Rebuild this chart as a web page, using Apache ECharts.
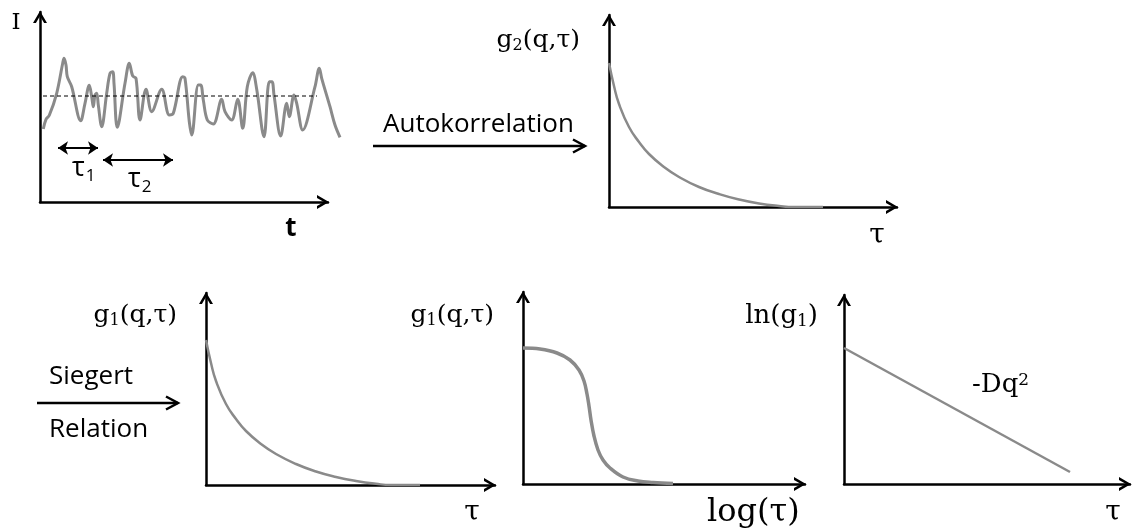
<!DOCTYPE html>
<html><head><meta charset="utf-8">
<script src="https://cdn.jsdelivr.net/npm/echarts@6/dist/echarts.min.js"></script>
<style>html,body{margin:0;padding:0;background:#fff}#c{width:1132px;height:530px}</style>
</head><body><div id="c"></div>
<script>
// ---------- Panel 1: intensity fluctuation I(t) ----------
const signalT = [3.3,6,9.3,16.7,22.7,24,26,27.3,31.7,40.7,45,49.3,51.7,53.3,55,56.7,58.3,61.7,66.7,70,72.7,74,77.3,85,89.3,92.7,96,100,106,111.7,121.7,129.3,133.3,142.7,145,149.3,151.7,158.3,160.7,163.3,167.3,173.3,181.7,185,191.7,197.7,202.7,207.3,212.7,216.7,224,229.3,232,234,240.7,246.7,249.3,254,256.7,262.7,275,279.3,281.7,290,295,300];
const signalI = [73,82.7,86.7,108.7,138.7,143.7,137,125.3,115.3,81.3,98.7,116.7,105.3,95.3,107,108.7,97,75.3,108.7,128.7,130.3,118.7,74.7,118.7,138.7,126,123.7,82,112.7,90.3,112.7,87,88.7,125.3,123.7,80.3,67,117,117,102,82,78,102.7,90.3,82,102.7,73.7,115.3,129.3,112.7,65.3,120.3,120.3,107,66,98.7,85.3,107,98.7,72,115.3,133.7,123.7,95.3,77,64.7];
const meanLevel = 106;
const meanSpan = [3, 277];
const tau1Span = [18, 58];  const tau1Level = 54;
const tau2Span = [63, 133]; const tau2Level = 42;
// ---------- Panel 2: g2(q,tau) ----------
const g2Tau = [0,5,10,20,30,40,55,70,90,110,130,150,170,185,214];
const g2Val = [144,121,103,80,65,53,40,30,20,13,7.5,3.5,1,0,0];
// ---------- Panel 3: g1(q,tau) ----------
const g1Tau = [0,5,10,20,30,40,55,70,90,110,130,150,170,185,214];
const g1Val = [145,122,104,81,66,54,41,31,21,13.5,8,4,1.2,0,0];
// ---------- Panel 4: g1 vs log(tau) ----------
const g1LogTau = [0,17,34,47,56,61,64,66,68,71,75,80,87,100,115,130,150];
const g1LogVal = [136,135,131,124,114,103,90,78,64,48,34,24,16,7,3,1.5,0.5];
// ---------- Panel 5: ln(g1) vs tau ----------
const lnTau = [0, 226];
const lnVal = [136, 12];

const chevron = 'path://M14,0L28,24L22.2,24L14,9.9L5.8,24L0,24Z';
const grey = '#8a8a8a';
const panels = [
  {left:40,  top:12,  width:288, height:190, xmax:288, ymax:190, show:true},
  {left:609, top:15,  width:288, height:192, xmax:288, ymax:192, show:true},
  {left:206, top:293, width:289, height:192, xmax:289, ymax:192, show:true},
  {left:523, top:292, width:282, height:192, xmax:282, ymax:192, show:true},
  {left:844, top:295, width:286, height:189, xmax:286, ymax:189, show:true},
  // same scale as panel 1, wider extent so the trace can run past the t-arrow
  {left:40,  top:12,  width:300, height:190, xmax:300, ymax:190, show:false}
];
function axis(i, p, max) {
  return {
    type:'value', gridIndex:i, min:0, max:max, show:p.show,
    axisLine:{show:true, onZero:false, symbol:['none', chevron], symbolSize:[14,12], symbolOffset:[0,-5],
      lineStyle:{color:'#000', width:2.5}},
    axisTick:{show:false}, axisLabel:{show:false}, splitLine:{show:false}
  };
}
const zip = (a,b) => a.map((v,k) => [v, b[k]]);

const serif = 'DejaVu Serif', sans = 'Open Sans';
function lab(x, y, text, rich, align) {
  return {type:'text', x:x, y:y, z:10, style:{text:text, rich:rich, align:align||'left', verticalAlign:'middle', fill:'#000'}};
}
const gRich = {
  m:{fontFamily:serif, fontSize:25, fill:'#000'},
  s:{fontFamily:serif, fontSize:16, fill:'#000', verticalAlign:'top', padding:[12,0,0,0]}
};
const lnRich = {
  m:{fontFamily:serif, fontSize:26, fill:'#000'},
  s:{fontFamily:serif, fontSize:17, fill:'#000', verticalAlign:'top', padding:[12,0,0,0]}
};
const tRich = {m:{fontFamily:serif, fontSize:28, fill:'#000'}};
const tauRich = {
  m:{fontFamily:sans, fontSize:27, fill:'#000'},
  s:{fontFamily:sans, fontSize:17, fill:'#000', verticalAlign:'top', padding:[16,0,0,1]}
};
const connector = (x1, x2, y) => [
  {type:'line', shape:{x1:x1, y1:y, x2:x2, y2:y}, style:{stroke:'#000', lineWidth:2.5}},
  {type:'polyline', shape:{points:[[x2-12,y-6.5],[x2,y],[x2-12,y+6.5]]}, style:{stroke:'#000', lineWidth:2.5, fill:null}}
];

const option = {
  animation:false,
  backgroundColor:'#fff',
  grid: panels.map(p => ({left:p.left, top:p.top, width:p.width, height:p.height, containLabel:false})),
  xAxis: panels.map((p,i) => axis(i, p, p.xmax)),
  yAxis: panels.map((p,i) => axis(i, p, p.ymax)),
  series: [
    {type:'line', xAxisIndex:5, yAxisIndex:5, data:zip(signalT, signalI), smooth:0.35, showSymbol:false, clip:false,
      lineStyle:{color:grey, width:3}},
    {type:'line', xAxisIndex:0, yAxisIndex:0, data:[[meanSpan[0], meanLevel],[meanSpan[1], meanLevel]], showSymbol:false,
      lineStyle:{color:'#000', width:1, type:[4,3]},
      markLine:{silent:true, symbol:['arrow','arrow'], symbolSize:[10,10], label:{show:false},
        lineStyle:{color:'#000', width:2, type:'solid'},
        data:[[{coord:[tau1Span[0], tau1Level]},{coord:[tau1Span[1], tau1Level]}],
              [{coord:[tau2Span[0], tau2Level]},{coord:[tau2Span[1], tau2Level]}]]}},
    {type:'line', xAxisIndex:1, yAxisIndex:1, data:zip(g2Tau, g2Val), smooth:0.5, showSymbol:false, lineStyle:{color:grey, width:2.5}},
    {type:'line', xAxisIndex:2, yAxisIndex:2, data:zip(g1Tau, g1Val), smooth:0.5, showSymbol:false, lineStyle:{color:grey, width:2.5}},
    {type:'line', xAxisIndex:3, yAxisIndex:3, data:zip(g1LogTau, g1LogVal), smooth:0.4, showSymbol:false, lineStyle:{color:grey, width:3.5}},
    {type:'line', xAxisIndex:4, yAxisIndex:4, data:zip(lnTau, lnVal), showSymbol:false, lineStyle:{color:grey, width:2.5}}
  ],
  graphic: [
    lab(16, 23, '{m|I}', {m:{fontFamily:serif, fontSize:23, fill:'#000'}}, 'center'),
    lab(291, 229, '{m|t}', {m:{fontFamily:sans, fontSize:26, fontWeight:'bold', fill:'#000'}}, 'center'),
    lab(72, 168, '{m|τ}{s|1}', tauRich),
    lab(128, 179, '{m|τ}{s|2}', tauRich),
    lab(580, 40, '{m|g}{s|2}{m|(q,τ)}', gRich, 'right'),
    lab(383, 125, '{m|Autokorrelation}', {m:{fontFamily:sans, fontSize:26, fill:'#000'}}),
    ...connector(373, 585, 146),
    lab(877, 236, '{m|τ}', tRich, 'center'),
    lab(177, 315, '{m|g}{s|1}{m|(q,τ)}', gRich, 'right'),
    lab(49, 377, '{m|Siegert}', {m:{fontFamily:sans, fontSize:26, fill:'#000'}}),
    lab(49, 430, '{m|Relation}', {m:{fontFamily:sans, fontSize:26, fill:'#000'}}),
    ...connector(37, 178, 403),
    lab(472, 513, '{m|τ}', tRich, 'center'),
    lab(494, 315, '{m|g}{s|1}{m|(q,τ)}', gRich, 'right'),
    lab(707, 513, '{m|log(τ)}', {m:{fontFamily:serif, fontSize:32, fill:'#000'}}),
    lab(818, 316, '{m|ln(g}{s|1}{m|)}', lnRich, 'right'),
    lab(972, 385, '{m|-Dq}{p|2}', {m:{fontFamily:serif, fontSize:26, fill:'#000'}, p:{fontFamily:serif, fontSize:17, fill:'#000', verticalAlign:'top'}}),
    lab(1113, 513, '{m|τ}', tRich, 'center')
  ]
};
const chart = echarts.init(document.getElementById('c'), null, {renderer:'canvas'});
chart.setOption(option);
</script></body></html>
